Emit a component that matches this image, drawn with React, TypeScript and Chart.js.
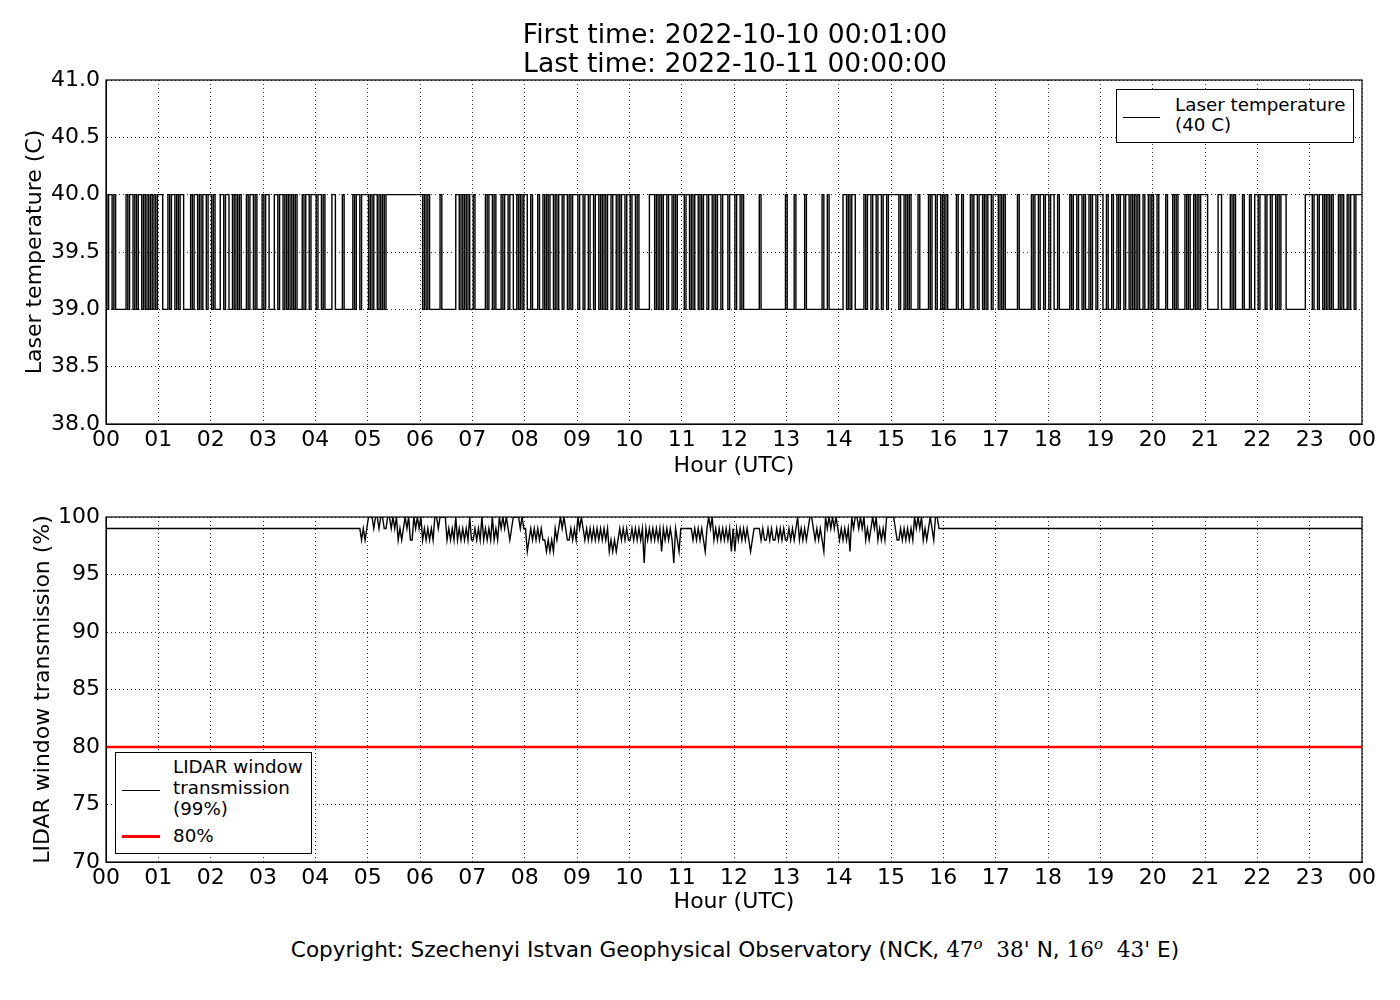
import React, { useEffect, useRef } from 'react';
import { Chart, registerables } from 'chart.js';

Chart.register(...registerables);

const hourLabels = ['00', '01', '02', '03', '04', '05', '06', '07', '08', '09', '10', '11',
  '12', '13', '14', '15', '16', '17', '18', '19', '20', '21', '22', '23', '00'];

// one string per hour, one character per 2 minutes: 1 = 40 C, 0 = 39 C
const laserHours = [
  '101101000000101101011010101010', // 00
  '111000101101011000010110101101', // 01
  '101000110110010101000101101000', // 02
  '101100011011010101010001011011', // 03
  '101101000011000010000010110111', // 04
  '101011010101111111111111111111', // 05
  '110101000000100000000110101010', // 06
  '010000001011010001011011001010', // 07
  '110010001001010110101101101011', // 08
  '101101101101101010110110101101', // 09
  '101101000000111010101101101011', // 10
  '110110101101011011010110111011', // 11
  '101101000000000100000000000000', // 12
  '100001000001000000000100100000', // 13
  '000110101100000101101101101101', // 14
  '111110110101000010000010110110', // 15
  '101000001001000010110110101101', // 16
  '110101000000010000000101101101', // 17
  '101100100000010110110100101101', // 18
  '110010010010110110101010010010', // 19
  '100100001000101000010100101011', // 20
  '110000001100000101000010001001', // 21
  '101110110110101110000000000011', // 22
  '110110110101010001010010110111', // 23
];
const laserBase = 39;

// one string per hour, one character per 2 minutes: percent below 100 %
const windowHours = [
  '111111111111111111111111111111', // 00
  '111111111111111111111111111111', // 01
  '111111111111111111111111111111', // 02
  '111111111111111111111111111111', // 03
  '111111111111111111111111112121', // 04
  '000100100110010102121010220101', // 05
  '021212120010000212120212121202', // 06
  '212120212120212010101210000101', // 07
  '132121212122323231210101221212', // 08
  '010121212121212121323232121212', // 09
  '212121214121212121312121241231', // 10
  '111111212121231010212121212131', // 11
  '312121212321111212212122121212', // 12
  '212121021212100121212301010101', // 13
  '212121301001010212101021212000', // 14
  '001221212121201010212101200111', // 15
  '111111111111111111111111111111', // 16
  '111111111111111111111111111111', // 17
  '111111111111111111111111111111', // 18
  '111111111111111111111111111111', // 19
  '111111111111111111111111111111', // 20
  '111111111111111111111111111111', // 21
  '111111111111111111111111111111', // 22
  '111111111111111111111111111111', // 23
];
const windowTop = 100;
const thresholdLevel = 80;

const FONT = "'DejaVu Sans', sans-serif";

function toPoints(hours: string[], value: (c: string) => number) {
  const pts: { x: number; y: number }[] = [];
  hours.forEach((s, h) => {
    const step = 60 / s.length;
    for (let i = 0; i < s.length; i++) pts.push({ x: h * 60 + i * step + 1, y: value(s[i]) });
  });
  pts.push({ x: 1440, y: pts[pts.length - 1].y });
  return pts;
}

const framePlugin = {
  id: 'frame',
  afterDatasetsDraw(chart: any) {
    const { ctx, chartArea: a } = chart;
    ctx.save();
    ctx.strokeStyle = '#000';
    ctx.lineWidth = 1.2;
    ctx.strokeRect(a.left, a.top, a.right - a.left, a.bottom - a.top);
    ctx.restore();
  },
};

const grid = { color: '#000', lineWidth: 0.8, drawTicks: false };
const border = { display: true, color: '#000', width: 1, dash: [1, 3] };

function xScale(height: number, titlePad: number) {
  return {
    type: 'linear',
    min: 0,
    max: 1440,
    afterFit: (s: any) => { s.height = height; },
    grid,
    border,
    ticks: {
      stepSize: 60, autoSkip: false, maxRotation: 0, minRotation: 0, padding: 3, color: '#000',
      font: { size: 22, family: FONT },
      callback: (v: any) => hourLabels[Math.round(Number(v) / 60)] ?? '',
    },
    title: {
      display: true, text: 'Hour (UTC)', color: '#000',
      font: { size: 22, family: FONT }, padding: { top: 0, bottom: titlePad },
    },
  };
}

function yScale(min: number, max: number, step: number, digits: number, text: string, titlePad: number) {
  return {
    type: 'linear',
    position: 'left',
    min,
    max,
    afterFit: (s: any) => { s.width = 106; },
    grid,
    border,
    ticks: {
      stepSize: step, padding: 6, color: '#000',
      font: { size: 22, family: FONT },
      callback: (v: any) => Number(v).toFixed(digits),
    },
    title: {
      display: true, text, color: '#000',
      font: { size: 22, family: FONT }, padding: { top: titlePad, bottom: 0 },
    },
  };
}

const App: React.FC = () => {
  const topRef = useRef<HTMLCanvasElement>(null);
  const bottomRef = useRef<HTMLCanvasElement>(null);

  useEffect(() => {
    if (!topRef.current || !bottomRef.current) return;

    const common = {
      responsive: false,
      maintainAspectRatio: false,
      animation: false,
      events: [],
      plugins: { legend: { display: false }, tooltip: { enabled: false } },
    };

    const top = new Chart(topRef.current, {
      type: 'line',
      data: {
        datasets: [{
          data: toPoints(laserHours, (c) => laserBase + Number(c)),
          borderColor: '#000', borderWidth: 1.4, pointRadius: 0, stepped: 'after', fill: false,
        }],
      },
      options: {
        ...common,
        layout: { padding: { top: 80, right: 38, left: 0, bottom: 0 } },
        scales: {
          x: xScale(66, 11),
          y: yScale(38, 41, 0.5, 1, 'Laser temperature (C)', 22),
        },
      } as any,
      plugins: [framePlugin],
    });

    const bottom = new Chart(bottomRef.current, {
      type: 'line',
      data: {
        datasets: [
          {
            data: [{ x: 0, y: thresholdLevel }, { x: 1440, y: thresholdLevel }],
            borderColor: '#ff0000', borderWidth: 2.5, pointRadius: 0, fill: false,
          },
          {
            data: toPoints(windowHours, (c) => windowTop - Number(c)),
            borderColor: '#000', borderWidth: 1.4, pointRadius: 0, fill: false,
          },
        ],
      },
      options: {
        ...common,
        layout: { padding: { top: 27, right: 38, left: 0, bottom: 0 } },
        scales: {
          x: xScale(58, 5),
          y: yScale(70, 100, 5, 0, 'LIDAR window transmission (%)', 30),
        },
      } as any,
      plugins: [framePlugin],
    });

    return () => {
      top.destroy();
      bottom.destroy();
    };
  }, []);

  return (
    <div style={{ position: 'absolute', left: 0, top: 0, width: 1400, height: 1000, background: '#fff', fontFamily: FONT, color: '#000' }}>
      <canvas ref={topRef} width={1400} height={490} style={{ position: 'absolute', left: 0, top: 0 }} />
      <canvas ref={bottomRef} width={1400} height={430} style={{ position: 'absolute', left: 0, top: 490 }} />

      <div style={{ position: 'absolute', left: 106, top: 19, width: 1258, textAlign: 'center', fontSize: 26.6, lineHeight: '29px' }}>
        First time: 2022-10-10 00:01:00<br />Last time: 2022-10-11 00:00:00
      </div>

      <div style={{ position: 'absolute', left: 1116, top: 89, width: 238, height: 54, border: '1px solid #000', boxSizing: 'border-box', background: '#fff' }}>
        <div style={{ position: 'absolute', left: 6, top: 27, width: 37, borderTop: '1px solid #000' }} />
        <div style={{ position: 'absolute', left: 58, top: 5, fontSize: 18.3, lineHeight: '20px', whiteSpace: 'nowrap' }}>
          Laser temperature<br />(40 C)
        </div>
      </div>

      <div style={{ position: 'absolute', left: 115, top: 752, width: 197, height: 102, border: '1px solid #000', boxSizing: 'border-box', background: '#fff' }}>
        <div style={{ position: 'absolute', left: 6, top: 37, width: 38, borderTop: '1px solid #000' }} />
        <div style={{ position: 'absolute', left: 57, top: 3, fontSize: 18.3, lineHeight: '21px', whiteSpace: 'nowrap' }}>
          LIDAR window<br />transmission<br />(99%)
        </div>
        <div style={{ position: 'absolute', left: 6, top: 82, width: 38, height: 3, background: '#ff0000' }} />
        <div style={{ position: 'absolute', left: 57, top: 72, fontSize: 18.3, lineHeight: '21px' }}>80%</div>
      </div>

      <div style={{ position: 'absolute', left: 106, top: 937, width: 1258, textAlign: 'center', fontSize: 21.6, lineHeight: '26px', whiteSpace: 'nowrap' }}>
        Copyright: Szechenyi Istvan Geophysical Observatory (NCK,{' '}
        <span style={{ fontFamily: "'DejaVu Serif', serif" }}>47<sup style={{ fontSize: 15, fontStyle: 'italic', lineHeight: 0 }}>o</sup>&nbsp;&nbsp;38'</span> N,{' '}
        <span style={{ fontFamily: "'DejaVu Serif', serif" }}>16<sup style={{ fontSize: 15, fontStyle: 'italic', lineHeight: 0 }}>o</sup>&nbsp;&nbsp;43'</span> E)
      </div>
    </div>
  );
};

export default App;
